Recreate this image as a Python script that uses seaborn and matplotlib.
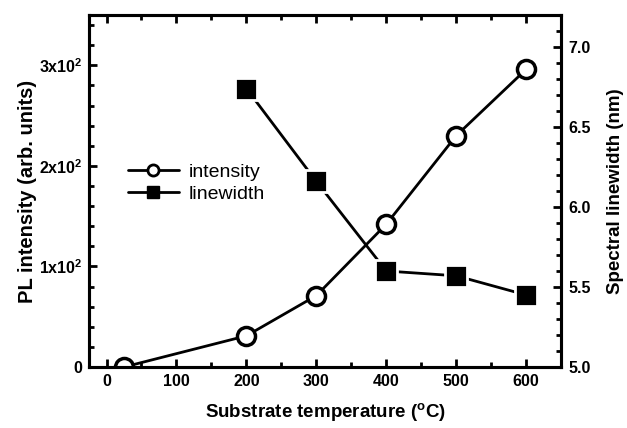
import matplotlib
matplotlib.use("Agg")
import matplotlib.pyplot as plt
from matplotlib.ticker import MultipleLocator
from matplotlib.lines import Line2D
from matplotlib.patches import Rectangle
import seaborn as sns
import pandas as pd

# Substrate temperature (°C) and measured quantities
temp_intensity = [25, 200, 300, 400, 500, 600]
pl_intensity = [0, 31, 71, 142, 230, 296]
temp_linewidth = [200, 300, 400, 500, 600]
linewidth_nm = [6.74, 6.16, 5.60, 5.57, 5.45]

left_ticks = [0, 100, 200, 300]
left_ticklabels = ["0", r"1x10$^2$", r"2x10$^2$", r"3x10$^2$"]
right_ticks = [5.0, 5.5, 6.0, 6.5, 7.0]
x_ticks = [0, 100, 200, 300, 400, 500, 600]

sns.set_theme(style="ticks")
plt.rcParams["font.family"] = ["Liberation Sans", "DejaVu Sans"]
plt.rcParams["mathtext.fontset"] = "custom"
plt.rcParams["mathtext.rm"] = "Liberation Sans:bold"
plt.rcParams["mathtext.bf"] = "Liberation Sans:bold"
plt.rcParams["mathtext.default"] = "rm"
plt.rcParams["text.color"] = "black"
plt.rcParams["axes.labelcolor"] = "black"
plt.rcParams["xtick.color"] = "black"
plt.rcParams["ytick.color"] = "black"

df_i = pd.DataFrame({"T": temp_intensity, "I": pl_intensity})
df_w = pd.DataFrame({"T": temp_linewidth, "W": linewidth_nm})

fig = plt.figure(figsize=(6.27, 4.28), dpi=100)
ax = fig.add_axes([0.142, 0.1425, 0.753, 0.8225])
ax2 = ax.twinx()

sns.lineplot(data=df_i, x="T", y="I", ax=ax, color="black", lw=2,
             marker="o", markersize=13, markerfacecolor="white",
             markeredgecolor="black", markeredgewidth=2.5, zorder=3)
sns.lineplot(data=df_w, x="T", y="W", ax=ax2, color="black", lw=2,
             marker="s", markersize=16, markerfacecolor="black",
             markeredgecolor="white", markeredgewidth=2.0, zorder=3)
for a in (ax, ax2):
    for ln in a.lines:
        ln.set_clip_on(True)
        ln.set_clip_path(a.patch)

# mask below the bottom frame so the room-temperature marker is cut at the axis
ax.add_patch(Rectangle((0, -0.019), 1, 0.019, transform=ax.transAxes,
                       facecolor="white", edgecolor="none", clip_on=False,
                       zorder=4))

ax.set_xlim(-25, 650)
ax.set_ylim(0, 350)
ax2.set_ylim(5.0, 7.2)

ax.set_xticks(x_ticks)
ax.xaxis.set_minor_locator(MultipleLocator(50))
ax.set_yticks(left_ticks)
ax.set_yticklabels(left_ticklabels)
ax.yaxis.set_minor_locator(MultipleLocator(20))
ax2.set_yticks(right_ticks)
ax2.set_yticklabels([f"{v:.1f}" for v in right_ticks])
ax2.yaxis.set_minor_locator(MultipleLocator(0.1))

for a in (ax, ax2):
    for s in a.spines.values():
        s.set_visible(True)
        s.set_linewidth(2.2)
        s.set_color("black")
        s.set_zorder(5)

ax.tick_params(axis="both", which="major", direction="in", length=6, width=2,
               labelsize=11.5, top=True, right=False, pad=5)
ax.tick_params(axis="both", which="minor", direction="in", length=3.5, width=2,
               top=True, right=False)
ax2.tick_params(axis="y", which="major", direction="in", length=6, width=2,
                labelsize=11.5, pad=5)
ax2.tick_params(axis="y", which="minor", direction="in", length=3.5, width=2)

for lbl in ax.get_xticklabels() + ax.get_yticklabels() + ax2.get_yticklabels():
    lbl.set_fontweight("bold")

ax.set_xlabel(r"Substrate temperature ($^\mathrm{o}$C)", fontsize=13.5,
              fontweight="bold", labelpad=9)
ax.set_ylabel("PL intensity (arb. units)", fontsize=14.5, fontweight="bold",
              labelpad=1)
ax2.set_ylabel("Spectral linewidth (nm)", fontsize=13.5, fontweight="bold",
               labelpad=12)

handles = [
    Line2D([], [], color="black", lw=2, marker="o", markersize=8,
           markerfacecolor="white", markeredgecolor="black",
           markeredgewidth=2),
    Line2D([], [], color="black", lw=2, marker="s", markersize=8,
           markerfacecolor="black", markeredgecolor="black"),
]
fig.legend(handles, ["intensity", "linewidth"], loc="upper left",
           bbox_to_anchor=(0.192, 0.637), frameon=False, fontsize=14,
           handlelength=2.6, handletextpad=0.5, labelspacing=0.25,
           borderaxespad=0)

fig.savefig("out.png", dpi=100)
